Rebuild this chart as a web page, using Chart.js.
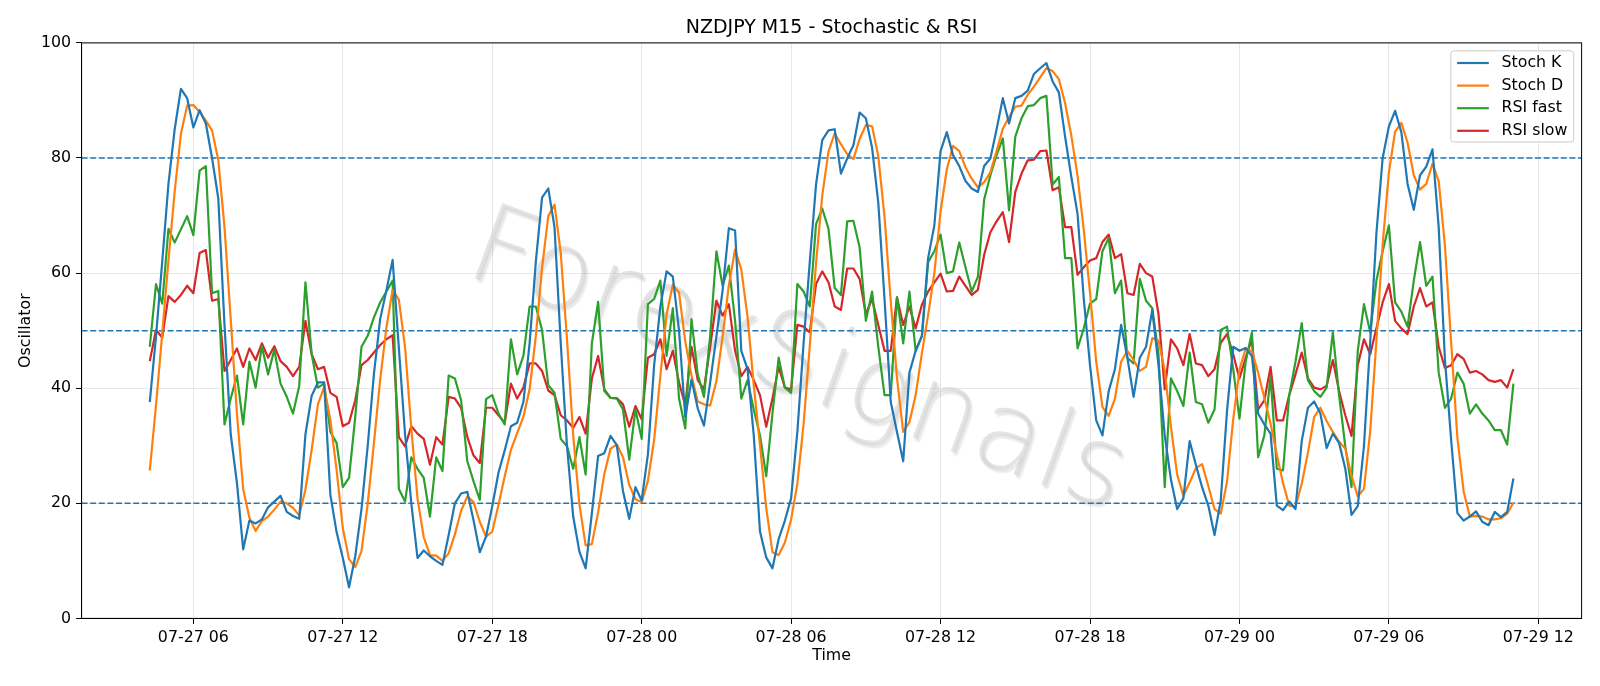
<!DOCTYPE html>
<html>
<head>
<meta charset="utf-8">
<script src="https://cdn.jsdelivr.net/npm/chart.js@4.4.1/dist/chart.umd.min.js"></script>
<style>
  html, body { margin: 0; padding: 0; background: #fff; }
  #wrap { width: 1600px; height: 686px; }
</style>
</head>
<body>
<div id="wrap"><canvas id="chart" width="1600" height="686"></canvas></div>
<script>
const TITLE = 'NZDJPY M15 - Stochastic & RSI';
const WATERMARK = 'ForexSignals';

// bar index 0 = 07-27 04:15, one bar per 15 minutes
const xTickPos = [7, 31, 55, 79, 103, 127, 151, 175, 199, 223];
const xTickLabels = ['07-27 06', '07-27 12', '07-27 18', '07-28 00', '07-28 06',
  '07-28 12', '07-28 18', '07-29 00', '07-29 06', '07-29 12'];
const levels = [20, 50, 80];

const stochK = [
  37.6, 49, 62, 75.5, 85, 92, 90.4, 85.3, 88.3, 86,
  80, 73, 51, 32, 23.5, 12, 17, 16.5, 17.2, 19.3,
  20.3, 21.3, 18.5, 17.8, 17.3, 32, 38.7, 41, 41, 21.5,
  15, 10.5, 5.4, 10.8, 19, 30, 42.5, 52, 57, 62.3,
  47, 32, 20, 10.5, 11.8, 10.8, 10, 9.3, 14.5, 20,
  21.7, 22, 17, 11.5, 14.2, 19.5, 25.3, 29.2, 33.4, 34,
  37.6, 47.8, 62, 73.1, 74.7, 68, 47.8, 30, 17.7, 11.6,
  8.7, 18.3, 28.2, 28.7, 31.7, 30.1, 22.1, 17.3, 22.8, 20.5,
  28.5, 44, 54.2, 60.3, 59.4, 50, 35, 41.5, 36.5, 33.5,
  41, 49, 57, 67.8, 67.4, 46.5, 43.3, 31.8, 15.1, 10.6,
  8.7, 13.8, 17, 20.9, 32.4, 47.8, 62, 75.4, 83.1, 84.8,
  85, 77.3, 79.9, 82.2, 87.9, 86.9, 81.8, 72.2, 55.5, 37.6,
  32.4, 27.3, 42.7, 46.5, 49.1, 62.6, 68.3, 81.2, 84.5, 80.5,
  78.6, 76, 74.7, 74.1, 78.6, 79.9, 85, 90.4, 86, 90.4,
  90.8, 91.7, 94.6, 95.6, 96.5, 93.3, 91.4, 83.7, 76.7, 70.3,
  55.5, 44, 34.4, 31.8, 39.5, 43.3, 51, 45.3, 38.5, 45.3,
  47.2, 53.6, 44, 31.8, 24.1, 19, 20.9, 30.8, 26.7, 22.8,
  19.6, 14.5, 20.5, 36, 47.2, 46.5, 47, 45.6, 35.6, 33.7,
  32.1, 19.6, 18.8, 20.3, 19, 30.8, 36.6, 37.7, 35.6, 29.6,
  32.1, 30.5, 26, 18, 19.5, 30, 48, 67, 80, 85.5,
  88.2, 84.5, 75.5, 71, 77, 78.5, 81.5, 68, 45, 31,
  18.3, 17, 17.7, 18.6, 16.8, 16.2, 18.5, 17.6, 18.5, 24.3
];

const stochD = [
  25.7, 37, 49.5, 62.2, 74.2, 84.2, 89.1, 89.2, 88, 86.5,
  84.8, 79.7, 68, 52, 35.5, 22.5, 17.5, 15.2, 16.9, 17.7,
  18.9, 20.3, 20, 19.2, 17.9, 22.4, 29.3, 37.2, 40.2, 34.5,
  25.8, 15.7, 10.3, 8.9, 11.7, 19.9, 30.5, 41.5, 50.5, 57.1,
  55.4, 47.1, 33, 20.8, 14.1, 11, 10.9, 10, 11.3, 14.6,
  18.7, 21.2, 20.2, 16.8, 14.2, 15.1, 19.7, 24.7, 29.3, 32.2,
  35, 39.8, 49.1, 60.9, 69.9, 71.9, 63.5, 48.6, 31.8, 19.8,
  12.7, 12.9, 18.4, 25.1, 29.5, 30.2, 28, 23.2, 20.7, 20.2,
  23.9, 31, 42.2, 52.8, 58, 56.6, 48.1, 42.2, 37.7, 37.2,
  37, 41.2, 49, 57.9, 64.1, 60.6, 52.4, 40.5, 30.1, 19.2,
  11.5, 11, 13.2, 17.2, 23.4, 33.7, 47.4, 61.7, 73.5, 81.1,
  84.3, 82.4, 80.7, 79.8, 83.3, 85.7, 85.5, 80.3, 69.8, 55.1,
  41.8, 32.4, 34.1, 38.8, 46.1, 52.7, 60, 70.7, 78, 82.1,
  81.2, 78.4, 76.4, 74.9, 75.8, 77.5, 81.2, 85.1, 87.1, 88.9,
  89.1, 91, 92.4, 94, 95.6, 95.1, 93.7, 89.5, 83.9, 76.9,
  67.5, 56.6, 44.6, 36.7, 35.2, 38.2, 44.6, 46.5, 44.9, 43,
  43.7, 48.7, 48.3, 43.1, 33.3, 25, 21.3, 23.6, 26.1, 26.8,
  23, 19, 18.2, 23.7, 34.6, 43.2, 46.9, 46.4, 42.7, 38.3,
  33.8, 28.5, 23.5, 19.6, 19.4, 23.4, 28.8, 35, 36.6, 34.3,
  32.4, 30.7, 29.5, 24.8, 21.2, 22.5, 32.5, 48.3, 65, 77.5,
  84.6, 86.1, 82.7, 77, 74.5, 75.5, 79, 76, 64.8, 48,
  31.4, 22.1, 17.7, 17.8, 17.7, 17.2, 17.2, 17.4, 18.2, 20.1
];

const rsiFast = [
  47.2, 58.1, 54.7, 67.7, 65.3, 67.6, 69.9, 66.6, 77.8, 78.6,
  56.5, 56.9, 33.7, 38.2, 42.2, 33.7, 44.6, 40.1, 47.3, 42.4,
  46.7, 40.8, 38.5, 35.6, 40.4, 58.4, 45.9, 40.1, 40.8, 32.4,
  30.5, 22.8, 24.4, 35, 47.2, 49.1, 52.3, 54.9, 56.8, 58.7,
  22.5, 20.3, 28, 26, 24.4, 17.7, 28, 25.6, 42.2, 41.7,
  37.9, 27.3, 23.8, 20.6, 38.1, 38.8, 35.6, 33.7, 48.5, 42.4,
  45.6, 54.2, 54.2, 50.1, 40.5, 39.2, 31.2, 29.9, 26, 31.5,
  25, 47.8, 55, 39.5, 38.3, 38.2, 36.3, 27.6, 36.3, 31.2,
  54.6, 55.5, 58.7, 45.6, 53.9, 38.2, 33, 52, 42.4, 38.5,
  49.1, 63.8, 57.8, 61.3, 51.7, 38.2, 41.4, 36.3, 31.8, 24.7,
  35.6, 45.3, 40.1, 39.2, 58.1, 56.8, 54.2, 68.5, 71.2, 67.7,
  57.4, 56.2, 69, 69.1, 64.5, 51.7, 56.8, 47.2, 38.8, 38.8,
  55.8, 47.8, 56.8, 46.5, 49, 61.9, 63.8, 66.7, 60, 60.3,
  65.3, 61, 56.8, 59.4, 72.8, 77, 80.5, 83.4, 70.9, 83.7,
  86.9, 89, 89.2, 90.4, 90.8, 75.4, 76.7, 62.6, 62.6, 46.9,
  50.4, 54.7, 55.5, 63.8, 66.1, 56.5, 58.7, 45.3, 44.3, 59,
  55.2, 53.9, 45.9, 22.8, 41.7, 39.5, 36.9, 46.2, 37.6, 37.2,
  34, 36.3, 50.1, 50.7, 43.3, 34.7, 44.6, 49.7, 28, 31.8,
  42.1, 26, 25.7, 38.8, 44.6, 51.3, 41.4, 39.5, 38.5, 40.1,
  49.7, 38.8, 29.9, 22.8, 46.5, 54.6, 49.7, 58.7, 63.8, 68.3,
  54.9, 53.3, 50.7, 58.7, 65.4, 57.8, 59.4, 42.7, 36.6, 38.2,
  42.7, 40.8, 35.6, 37.2, 35.6, 34.4, 32.7, 32.7, 30.2, 40.8
];

const rsiSlow = [
  44.7, 50.1, 48.8, 56, 55, 56.2, 57.8, 56.5, 63.5, 64,
  55.2, 55.5, 43, 44.9, 46.9, 43.7, 46.9, 44.9, 47.8, 45.3,
  47.3, 44.7, 43.7, 42.1, 43.7, 51.7, 45.9, 43.3, 43.7, 39.2,
  38.5, 33.4, 34, 37.9, 44, 44.9, 46.2, 47.5, 48.5, 49.2,
  31.5, 29.9, 33.4, 32.1, 31.2, 26.7, 31.5, 30.2, 38.5, 38.2,
  36.6, 31.5, 28.3, 27, 36.6, 36.6, 35.3, 34, 40.8, 38.2,
  40.1, 44.3, 44.3, 43, 39.6, 38.8, 35.3, 34.4, 33.1, 35,
  32.1, 41.7, 45.6, 39.8, 38.3, 38.3, 37.2, 33.3, 36.9, 34.6,
  45.3, 45.9, 48.5, 43.3, 46.5, 41, 37, 47.2, 41.4, 39.8,
  47.2, 55.2, 52.6, 54.6, 46.5, 42.1, 43.7, 41.4, 38.8, 33.3,
  38.2, 43.7, 40.1, 39.8, 51, 50.7, 49.7, 58.1, 60.3, 58.4,
  54.2, 53.6, 60.8, 60.8, 59, 52.9, 55.5, 51, 46.5, 46.5,
  55.8, 51, 54.2, 50.4, 54.5, 56.8, 58.4, 59.9, 56.8, 56.9,
  59.4, 57.8, 56.2, 57.1, 63.2, 67.1, 69, 70.6, 65.4, 74.1,
  77.3, 79.6, 79.7, 81.2, 81.3, 74.4, 74.9, 68, 68, 59.7,
  61, 62.2, 62.6, 65.4, 66.7, 62.6, 63.3, 56.5, 56.2, 61.6,
  60, 59.4, 52.9, 39.8, 48.5, 46.9, 44, 49.4, 44.3, 44,
  42.1, 43.3, 47.9, 49.4, 45.9, 41.7, 45.3, 48.5, 36.3, 37.9,
  43.7, 34.4, 34.4, 38.8, 42.4, 46.2, 41.7, 40.1, 39.8, 40.4,
  44.9, 39.5, 35.3, 31.7, 44, 48.5, 45.9, 50.4, 54.9, 58.1,
  51.7, 50.4, 49.4, 54.2, 57.4, 54.2, 54.9, 47.2, 43.5, 44,
  45.9, 45.1, 42.7, 43, 42.4, 41.4, 41.1, 41.4, 40.1, 43.3
];

const FONT = '"DejaVu Sans", sans-serif';
Chart.defaults.color = '#000';
Chart.defaults.font.family = FONT;

const n = stochK.length;
const pad = (n - 1) * 0.05;
const xMin = -pad, xMax = n - 1 + pad;
const toXY = arr => arr.map((v, i) => ({ x: i, y: v }));

function series(label, values, color) {
  return {
    label, data: toXY(values), borderColor: color, backgroundColor: color,
    borderWidth: 2.2, pointRadius: 0, tension: 0, borderJoinStyle: 'round',
    inLegend: true,
  };
}

const datasets = [
  series('Stoch K', stochK, '#1f77b4'),
  series('Stoch D', stochD, '#ff7f0e'),
  series('RSI fast', rsiFast, '#2ca02c'),
  series('RSI slow', rsiSlow, '#d62728'),
];
levels.forEach(l => datasets.push({
  label: 'level ' + l,
  data: [{ x: xMin, y: l }, { x: xMax, y: l }],
  borderColor: '#1f77b4', borderWidth: 1.5, borderDash: [6, 2.6],
  pointRadius: 0,
}));

const decor = {
  id: 'decor',
  beforeDatasetsDraw(chart) {
    const { ctx, chartArea: a } = chart;
    ctx.save();
    ctx.beginPath();
    ctx.rect(a.left, a.top, a.right - a.left, a.bottom - a.top);
    ctx.clip();
    ctx.translate(a.left + (a.right - a.left) * 0.477, a.top + (a.bottom - a.top) * 0.56);
    ctx.rotate(20 * Math.PI / 180);
    ctx.font = '200 110px ' + FONT;
    ctx.textAlign = 'center';
    ctx.textBaseline = 'middle';
    ctx.shadowColor = 'rgba(0,0,0,0.18)';
    ctx.shadowOffsetX = 2;
    ctx.shadowOffsetY = 3;
    ctx.shadowBlur = 2;
    ctx.fillStyle = 'rgba(205,205,205,0.55)';
    ctx.fillText(WATERMARK, 0, 0);
    ctx.restore();
  },
  afterDraw(chart) {
    const { ctx, chartArea: a } = chart;
    ctx.save();
    // frame
    ctx.strokeStyle = '#000';
    ctx.lineWidth = 1;
    ctx.strokeRect(a.left, a.top, a.right - a.left, a.bottom - a.top);

    // title and axis labels
    ctx.fillStyle = '#000';
    ctx.textAlign = 'center';
    ctx.textBaseline = 'alphabetic';
    ctx.font = '19px ' + FONT;
    ctx.fillText(TITLE, (a.left + a.right) / 2, a.top - 9.5);
    ctx.font = '15.8px ' + FONT;
    ctx.textBaseline = 'middle';
    ctx.fillText('Time', (a.left + a.right) / 2, 656);
    ctx.save();
    ctx.translate(25.5, (a.top + a.bottom) / 2);
    ctx.rotate(-Math.PI / 2);
    ctx.fillText('Oscillator', 0, 0);
    ctx.restore();

    // legend box, upper right
    const items = chart.data.datasets.filter(d => d.inLegend);
    ctx.font = '15.8px ' + FONT;
    const tw = Math.max(...items.map(d => ctx.measureText(d.label).width));
    const w = 50.7 + tw + 6.3;
    const rowH = 22.6;
    const h = 12.2 * 2 + rowH * (items.length - 1) - 1;
    const right = a.right - 7.9, top = a.top + 7.9, left = right - w;
    ctx.beginPath();
    ctx.roundRect(left, top, w, h, 3);
    ctx.fillStyle = 'rgba(255,255,255,0.8)';
    ctx.fill();
    ctx.strokeStyle = '#cccccc';
    ctx.lineWidth = 1;
    ctx.stroke();
    items.forEach((d, k) => {
      const y = top + 12.2 + k * rowH;
      ctx.beginPath();
      ctx.moveTo(left + 6.3, y);
      ctx.lineTo(left + 38, y);
      ctx.strokeStyle = d.borderColor;
      ctx.lineWidth = 2.2;
      ctx.stroke();
      ctx.fillStyle = '#000';
      ctx.textAlign = 'left';
      ctx.textBaseline = 'middle';
      ctx.fillText(d.label, left + 50.7, y);
    });
    ctx.restore();
  }
};

new Chart(document.getElementById('chart'), {
  type: 'line',
  data: { datasets },
  options: {
    responsive: false,
    devicePixelRatio: 1,
    animation: false,
    events: [],
    layout: { padding: { top: 42.9, right: 18.4, bottom: 0, left: 0 } },
    plugins: {
      legend: { display: false },
      title: { display: false },
      tooltip: { enabled: false },
    },
    scales: {
      x: {
        type: 'linear',
        min: xMin,
        max: xMax,
        afterBuildTicks: s => { s.ticks = xTickPos.map(v => ({ value: v })); },
        afterFit: s => { s.height = 67.6; },
        ticks: {
          autoSkip: false, maxRotation: 0, padding: 5,
          font: { size: 15.8, family: FONT }, color: '#000',
          callback: v => {
            const k = xTickPos.indexOf(v);
            return k >= 0 ? xTickLabels[k] : '';
          },
        },
        grid: { color: '#e6e6e6', tickColor: '#000', tickLength: 5.5, lineWidth: 1 },
        border: { display: true, color: '#000', width: 1 },
      },
      y: {
        min: 0,
        max: 100,
        afterFit: s => { s.width = 81.6; },
        ticks: {
          stepSize: 20, padding: 5,
          font: { size: 15.8, family: FONT }, color: '#000',
        },
        grid: { color: '#e6e6e6', tickColor: '#000', tickLength: 5.5, lineWidth: 1 },
        border: { display: true, color: '#000', width: 1 },
      },
    },
  },
  plugins: [decor],
});
</script>
</body>
</html>
